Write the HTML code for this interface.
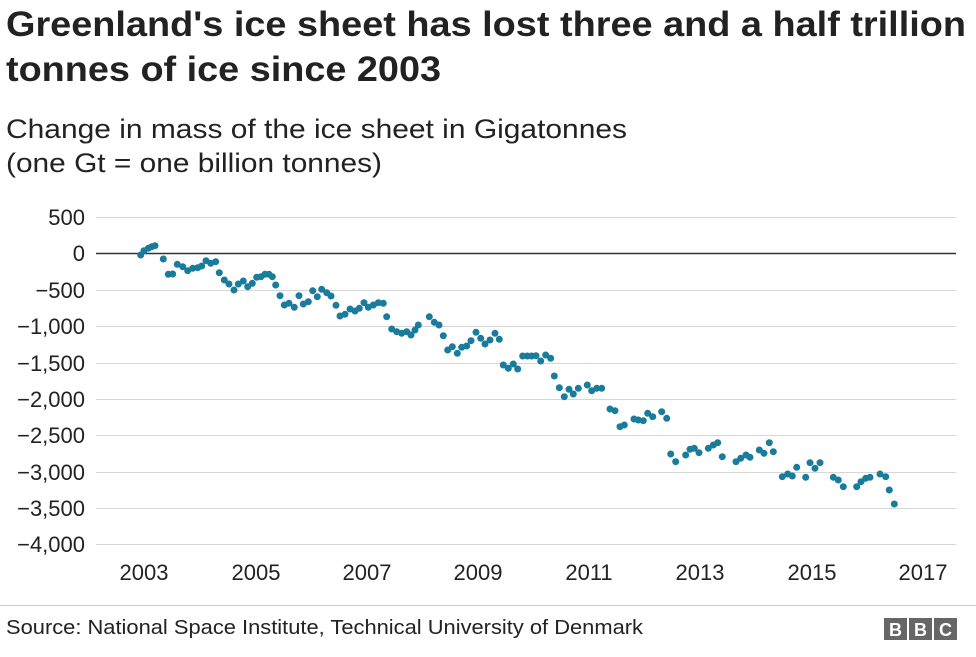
<!DOCTYPE html>
<html><head><meta charset="utf-8"><style>
body{margin:0;background:#fff;width:976px;height:652px;overflow:hidden;font-family:"Liberation Sans",Arial,sans-serif;}
</style></head><body>
<svg width="976" height="652" xmlns="http://www.w3.org/2000/svg" font-family="Liberation Sans, Arial, sans-serif">
<text x="6" y="36" font-size="35" font-weight="bold" fill="#222" textLength="960" lengthAdjust="spacingAndGlyphs">Greenland's ice sheet has lost three and a half trillion</text>
<text x="6" y="81" font-size="35" font-weight="bold" fill="#222" textLength="435" lengthAdjust="spacingAndGlyphs">tonnes of ice since 2003</text>
<text x="6" y="138" font-size="27" fill="#222" textLength="621" lengthAdjust="spacingAndGlyphs">Change in mass of the ice sheet in Gigatonnes</text>
<text x="6" y="172" font-size="27" fill="#222" textLength="376" lengthAdjust="spacingAndGlyphs">(one Gt = one billion tonnes)</text>
<g stroke="#d6d6d6" stroke-width="1">
<line x1="96" x2="956" y1="217.5" y2="217.5"/>
<line x1="96" x2="956" y1="290.5" y2="290.5"/>
<line x1="96" x2="956" y1="326.5" y2="326.5"/>
<line x1="96" x2="956" y1="363.5" y2="363.5"/>
<line x1="96" x2="956" y1="399.5" y2="399.5"/>
<line x1="96" x2="956" y1="435.5" y2="435.5"/>
<line x1="96" x2="956" y1="472.5" y2="472.5"/>
<line x1="96" x2="956" y1="508.5" y2="508.5"/>
<line x1="96" x2="956" y1="544.5" y2="544.5"/>
</g>
<line x1="96" x2="956" y1="253.5" y2="253.5" stroke="#333" stroke-width="1.6"/>
<g font-size="22" fill="#222" text-anchor="end">
<text x="85" y="225">500</text><text x="85" y="261">0</text><text x="85" y="298">−500</text>
<text x="85" y="334">−1,000</text><text x="85" y="371">−1,500</text><text x="85" y="407">−2,000</text>
<text x="85" y="443">−2,500</text><text x="85" y="480">−3,000</text><text x="85" y="516">−3,500</text>
<text x="85" y="552">−4,000</text>
</g>
<g font-size="22" fill="#222" text-anchor="middle">
<text x="144" y="580">2003</text><text x="256" y="580">2005</text><text x="367" y="580">2007</text>
<text x="478" y="580">2009</text><text x="589" y="580">2011</text><text x="700" y="580">2013</text>
<text x="812" y="580">2015</text><text x="923" y="580">2017</text>
</g>
<g fill="#1a7c9c" id="pts"></g>
<line x1="0" x2="976" y1="605.5" y2="605.5" stroke="#ccc"/>
<text x="6" y="634" font-size="20" fill="#222" textLength="637" lengthAdjust="spacingAndGlyphs">Source: National Space Institute, Technical University of Denmark</text>
<g font-size="18" font-weight="bold" fill="#fff" text-anchor="middle">
<rect x="884" y="618" width="23" height="22" fill="#666"/><text x="895.5" y="636">B</text>
<rect x="909" y="618" width="23" height="22" fill="#666"/><text x="920.5" y="636">B</text>
<rect x="934" y="618" width="23" height="22" fill="#666"/><text x="945.5" y="636">C</text>
</g>
</svg>
<script>
var z1=[[62,75],[72,62],[85,55],[95,50],[105,47],[130,87],[145,133],[158,132],[172,103],[188,110],[203,122],[218,115],[233,113],[245,108],[258,92],[272,100],[287,95],[298,128],[313,150],[327,162],[342,180],[355,162],[370,153],[383,170],[397,160],[410,142],[423,140],[435,133],[447,133],[457,140],[467,165],[480,197],[493,225],[507,220],[523,232],[537,197],[550,222],[565,215],[578,182],[592,200],[605,178],[620,188],[633,198],[648,226],[660,258],[675,253],[690,237],[705,243],[718,235],[732,218],[745,232],[760,225],[775,218],[790,220],[800,260],[815,297],[830,305],[845,310],[860,305],[873,315],[885,300],[895,285]];
var z2=[[88,50],[103,67],[117,75],[130,107],[143,150],[157,140],[172,160],[185,142],[200,138],[213,122],[228,97],[242,115],[255,132],[270,120],[285,100],[298,118],[310,195],[325,205],[340,192],[353,207],[368,168],[382,168],[395,168],[408,167],[422,183],[437,165],[452,175],[463,228],[478,263],[493,290],[507,268],[520,282],[535,265],[562,255],[575,272],[590,265],[605,265],[630,327],[645,332],[660,380],[673,375],[702,357],[715,360],[730,362],[743,340],[758,350],[785,335],[800,355]];
var z3=[[92,162],[107,185],[137,165],[150,148],[163,145],[177,158],[205,145],[220,135],[233,128],[247,170],[288,185],[302,175],[318,165],[330,172],[358,150],[372,160],[388,128],[400,155],[427,230],[443,222],[457,228],[470,202],[497,232],[510,188],[525,205],[540,188],[580,232],[595,240],[610,260],[650,260],[663,245],[677,235],[690,232],[720,222],[737,230],[748,270],[763,312]];
var g=document.getElementById('pts'),s='';
function add(a,ox,oy){a.forEach(function(p){s+='<circle cx="'+(ox+p[0]/3).toFixed(1)+'" cy="'+(oy+p[1]/3).toFixed(1)+'" r="3.5"/>';});}
add(z1,120,230);add(z2,400,300);add(z3,640,400);
g.innerHTML=s;
</script>
</body></html>
